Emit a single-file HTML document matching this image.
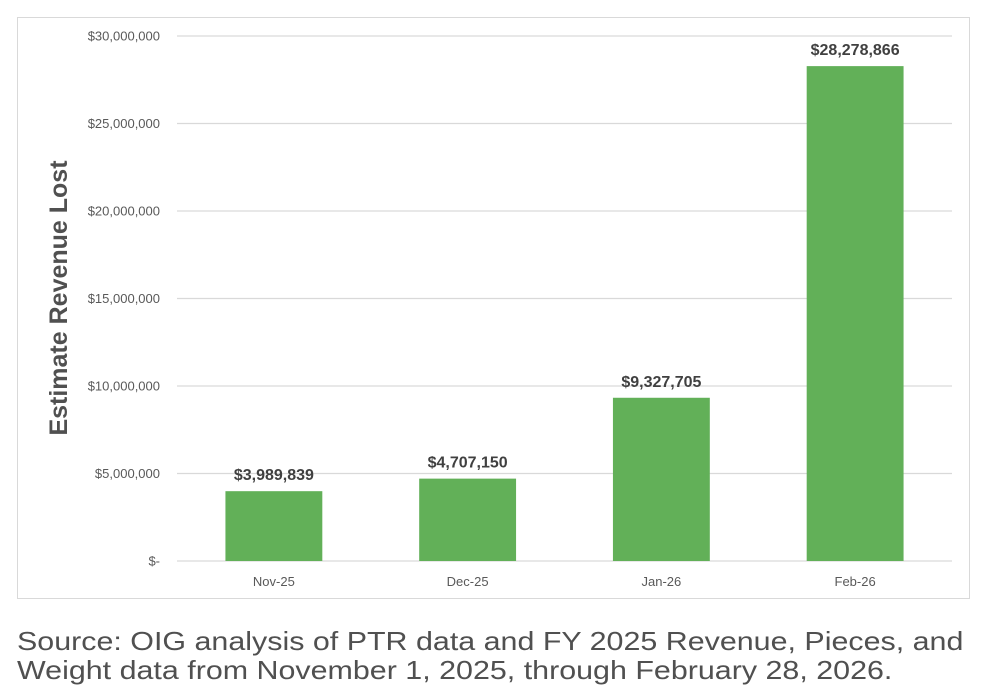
<!DOCTYPE html>
<html><head><meta charset="utf-8"><style>
body{margin:0;background:#fff;width:996px;height:699px;overflow:hidden;font-family:"Liberation Sans",sans-serif}
#frame{position:absolute;left:17px;top:17px;width:953px;height:582px;border:1px solid #d9d9d9;box-sizing:border-box}
#src{position:absolute;left:17px;top:627px;font-size:26px;line-height:29px;color:#505050;white-space:nowrap;transform:scaleX(1.17);transform-origin:0 0}
</style></head><body>
<div id="frame"></div>
<svg id="chart" width="996" height="699" style="position:absolute;left:0;top:0"></svg>
<div id="src">Source: OIG analysis of PTR data and FY 2025 Revenue, Pieces, and<br>Weight data from November 1, 2025, through February 28, 2026.</div>
<script>
const categories=["Nov-25","Dec-25","Jan-26","Feb-26"];
const values=[3989839,4707150,9327705,28278866];
const valueLabels=["$3,989,839","$4,707,150","$9,327,705","$28,278,866"];
const ticks=[0,5000000,10000000,15000000,20000000,25000000,30000000];
const tickLabels=["$-","$5,000,000","$10,000,000","$15,000,000","$20,000,000","$25,000,000","$30,000,000"];
const NS="http://www.w3.org/2000/svg",svg=document.getElementById('chart');
const x0=177,x1=952,y0=561,y1=36,yMax=30000000;
const band=(x1-x0)/categories.length;
const y=v=>y0-(v/yMax)*(y0-y1);
const xc=i=>x0+band*(i+0.5);
function mk(t,a,txt){const e=document.createElementNS(NS,t);for(const k in a)e.setAttribute(k,a[k]);if(txt!=null)e.textContent=txt;svg.appendChild(e);return e;}
ticks.forEach((t,i)=>{
 const g=mk('line',{x1:x0,x2:x1,y1:y(t),y2:y(t),stroke:'#d9d9d9','stroke-width':1.3});
 
 
 const l=mk('text',{x:160,y:y(t)+4.5,'text-anchor':'end','font-size':13,fill:'#595959'},tickLabels[i]);
 
 
});
categories.forEach((c,i)=>{
 const bw=band*0.5;
 const b=mk('rect',{x:xc(i)-bw/2,y:y(values[i]),width:bw,height:y0-y(values[i]),fill:'#62b058'});
 
 
 const v=mk('text',{x:xc(i),y:y(values[i])-11,'text-anchor':'middle','font-size':16,'font-weight':'bold',fill:'#404040'},valueLabels[i]);
 
 
 const xl=mk('text',{x:xc(i),y:586,'text-anchor':'middle','font-size':13,fill:'#595959'},c);
 
 
});
const yt=mk('text',{x:0,y:0,transform:'translate(67,298) rotate(-90)','text-anchor':'middle','font-size':25,'font-weight':'bold',fill:'#505050'},'Estimate Revenue Lost');


</script>
</body></html>
